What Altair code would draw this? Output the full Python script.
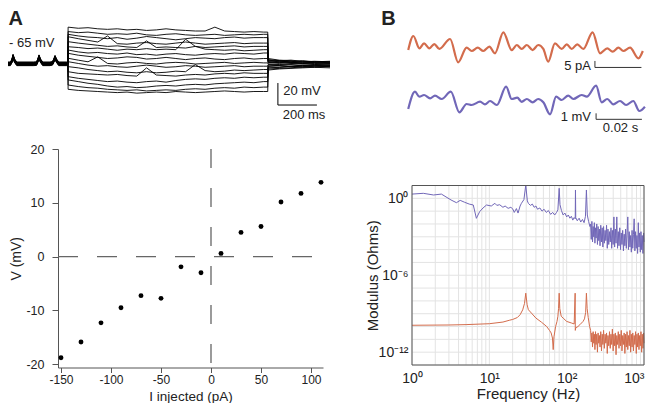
import altair as alt
import pandas as pd

FONT = "Liberation Sans"
INK = "#222222"
ORANGE = "#D36C4C"
PURPLE = "#7167B8"

# ---------------- Panel A, top: current-clamp voltage traces ----------------
pre_t = [0, 12, 20, 26, 33, 45, 130, 146, 153, 159, 166, 178, 215, 228, 235, 241, 248, 260, 300, 307]
pre_v = [-65, -65, -62.5, -58, -62, -65, -65, -64.8, -62, -58.5, -62, -65, -65, -64.5, -62, -59, -62, -65, -65, -65]
pre_offset = [1.5, 1.2, 0.9, 0.6, 0.3, 0.0, -0.3, -0.6, -0.9, -1.2, -1.5, 0.8, -0.8, 0.4, -0.4, 1.8]

step_t = [308, 360, 410, 460, 510, 560, 610, 660, 710, 760, 810, 860, 910, 960, 1010, 1060, 1110, 1160, 1210, 1260, 1310, 1331]
step_v = [
    [-31.5, -32.5, -32, -33, -33.5, -33, -34, -33.5, -34.5, -34, -33, -34, -34.5, -35, -35, -31.5, -35, -35.5, -36, -35.5, -36, -36],
    [-35.5, -36.5, -36, -37, -38, -37.5, -38, -37, -38.5, -39, -38, -37.5, -38.5, -39, -38.5, -38, -39, -38.5, -38, -38.5, -38, -38],
    [-38, -39.5, -40.5, -41, -42, -41, -42.5, -41.5, -40, -41, -42, -43, -42, -41, -41.5, -42, -41, -40.5, -41.5, -41, -41, -41],
    [-40.2, -42, -43.5, -45, -39.5, -46.5, -47, -46, -45.5, -46.5, -47, -46, -45, -46, -47, -46.5, -46, -45.5, -46.5, -46, -46, -46],
    [-44.7, -46, -47, -48, -49, -48.5, -49.5, -50, -44, -50, -49.5, -50, -50.5, -49, -50, -49.5, -49, -48.5, -49.5, -49, -49, -49],
    [-49.3, -50, -51, -50.5, -51.5, -52.5, -51.5, -52, -51, -52, -51.5, -52, -42.5, -49, -51.5, -52, -52.5, -52, -53, -52.5, -52, -52],
    [-52.3, -54, -55, -54.5, -55.5, -56, -55, -56.5, -56, -57, -56, -55.5, -56.5, -57, -56, -55.5, -56, -55, -55.5, -56, -55, -55],
    [-55.3, -57, -58, -59, -60, -59.5, -58.5, -59, -60.5, -60, -59, -60, -61, -60, -59.5, -60.5, -61, -60, -59.5, -60.5, -60, -60],
    [-59.8, -61.5, -63, -58.5, -64.5, -65, -64, -63.5, -64.5, -65, -64, -63.5, -64, -65, -64.5, -64, -63.5, -64.5, -64, -63.5, -64, -64],
    [-62.9, -64.5, -66, -67, -66.5, -67.5, -68, -67, -66, -67, -68, -67.5, -66.5, -67, -68, -67.5, -67, -66.5, -67.5, -67, -67, -67],
    [-67.4, -68.5, -70, -71, -72, -71.5, -72.5, -73, -72, -73, -72.5, -71.5, -72, -65.5, -71, -72, -71.5, -70.5, -71, -70.5, -70, -70],
    [-72, -73.5, -74, -74.5, -75, -74.5, -75.5, -76, -68.5, -75, -75.5, -76, -75, -74.5, -75, -74, -73.5, -74, -73, -73.5, -73.5, -73.5],
    [-76.5, -78, -79, -80, -81, -80.5, -81.5, -82, -81, -80.5, -81.5, -80, -79, -78.5, -79, -78, -77.5, -78, -77, -77.5, -77, -77],
    [-79.5, -81, -82.5, -83.5, -85, -86, -85.5, -86.5, -86, -85, -84.5, -85, -84, -83.5, -84, -83, -82.5, -82, -81.5, -82, -81, -81],
    [-84.1, -85.5, -86.5, -87, -88, -88.5, -89, -88.5, -89.5, -89, -88.5, -89, -88, -87.5, -88, -87, -86.5, -87, -86, -86.5, -86, -86],
    [-88, -89, -89.5, -90, -90.5, -91, -90.5, -91.5, -91, -90.5, -91, -90, -90.5, -91, -90.5, -90, -89.5, -90, -90.5, -90, -90, -90],
]
post_t = [1333, 1390, 1450, 1510, 1570, 1650]
post_v = [
    [-60, -61.5, -62, -63, -62.5, -63],
    [-61, -62, -61.5, -62.5, -63, -62.5],
    [-61.5, -62.5, -63, -62, -63, -63.5],
    [-62, -63, -62.5, -63.5, -63, -64],
    [-62.5, -62, -63.5, -64, -63.5, -63],
    [-63, -63.5, -64, -63, -64, -64.5],
    [-63.5, -64.5, -63.5, -64.5, -64, -64],
    [-64, -63.5, -64.5, -65, -64.5, -65],
    [-65, -65.5, -65, -64.5, -65.5, -65],
    [-65.5, -66, -65.5, -66.5, -65.5, -66],
    [-66, -66.5, -67, -66, -66.5, -66],
    [-67, -66.5, -67.5, -66.5, -67, -66.5],
    [-67.5, -68, -67, -67.5, -66.5, -67],
    [-68.5, -68, -67.5, -68, -67, -67.5],
    [-69.5, -69, -68.5, -67.5, -68, -67],
    [-70.5, -69.5, -69, -68.5, -68, -68.5],
]

rows = []
for k in range(len(step_v)):
    i = 0
    for t, v in zip(pre_t, pre_v):
        rows.append({"trace": k, "i": i, "t": t, "v": v + pre_offset[k]}); i += 1
    for t, v in zip(step_t, step_v[k]):
        rows.append({"trace": k, "i": i, "t": t, "v": v}); i += 1
    for t, v in zip(post_t, post_v[k]):
        rows.append({"trace": k, "i": i, "t": t, "v": v}); i += 1
traces = pd.DataFrame(rows)

sx_at = alt.Scale(domain=[0, 1650], range=[0, 322], nice=False, zero=False)
sy_at = alt.Scale(domain=[-110, -20], range=[105.5, 6.5], nice=False, zero=False)

a_lines = alt.Chart(traces).mark_line(color="black", strokeWidth=0.9, strokeJoin="round").encode(
    x=alt.X("t:Q", scale=sx_at, axis=None),
    y=alt.Y("v:Q", scale=sy_at, axis=None),
    detail="trace:N",
    order="i:Q",
)
a_bar = pd.DataFrame({"t": [1383, 1383], "t2": [1383, 1583], "v": [-102.3, -102.3], "v2": [-82.3, -102.3]})
a_bar_rules = alt.Chart(a_bar).mark_rule(color="black", strokeWidth=1).encode(
    x=alt.X("t:Q", scale=sx_at, axis=None), x2="t2:Q",
    y=alt.Y("v:Q", scale=sy_at, axis=None), y2="v2:Q",
)
a_txt_left = pd.DataFrame({"t": [5, 1410], "v": [-45.9, -89.5], "label": ["- 65 mV", "20 mV"]})
a_txt_center = pd.DataFrame({"t": [1517], "v": [-111.4], "label": ["200 ms"]})
a_txt_letter = pd.DataFrame({"t": [2], "v": [-29.5], "label": ["A"]})

def text_layer(df, sx, sy, xf, yf, **kw):
    return alt.Chart(df).mark_text(font=FONT, color=INK, **kw).encode(
        x=alt.X(f"{xf}:Q", scale=sx, axis=None),
        y=alt.Y(f"{yf}:Q", scale=sy, axis=None),
        text="label:N",
    )

a_top = alt.layer(
    a_lines, a_bar_rules,
    text_layer(a_txt_left, sx_at, sy_at, "t", "v", align="left", baseline="middle", fontSize=13),
    text_layer(a_txt_center, sx_at, sy_at, "t", "v", align="center", baseline="middle", fontSize=13),
    text_layer(a_txt_letter, sx_at, sy_at, "t", "v", align="left", baseline="alphabetic", fontSize=20, fontWeight="bold"),
)

# ---------------- Panel A, bottom: I-V relation ----------------
I_inj = [-150, -130, -110, -90, -70, -50, -30, -10, 10, 30, 50, 70, 90, 110]
V_resp = [-18.8, -15.85, -12.3, -9.5, -7.25, -7.75, -1.9, -3.0, 0.6, 4.5, 5.6, 10.15, 11.75, 13.8]
iv = pd.DataFrame({"I": I_inj, "V": V_resp})

sx_ab = alt.Scale(domain=[-153, 112], range=[50, 315], nice=False, zero=False)
sy_ab = alt.Scale(domain=[-20.6, 20], range=[359.5, 141], nice=False, zero=False)

axis_common = dict(
    domainColor="#555555", tickColor="#555555", labelColor=INK, titleColor=INK,
    labelFont=FONT, titleFont=FONT, titleFontWeight="normal", grid=False, labelOverlap=False,
    labelExpr="toString(datum.value)",
)
ax_x_ab = alt.Axis(orient="bottom", offset=-35.5, values=[-150, -100, -50, 0, 50, 100],
                   title="I injected (pA)", tickSize=5, labelPadding=2, labelFontSize=12,
                   titleFontSize=13.5, titleY=22, titleBaseline="top", **axis_common)
ax_y_ab = alt.Axis(orient="left", offset=-50, values=[-20, -10, 0, 10, 20],
                   title="V (mV)", tickSize=6, labelPadding=8, labelFontSize=12.5,
                   titleFontSize=14, titleX=-42, titleBaseline="middle", **axis_common)

iv_points = alt.Chart(iv).mark_circle(size=24, color="black", opacity=1).encode(
    x=alt.X("I:Q", scale=sx_ab, axis=ax_x_ab),
    y=alt.Y("V:Q", scale=sy_ab, axis=ax_y_ab),
)
h_zero = pd.DataFrame({"x": [-153], "x2": [112], "y": [0]})
v_zero = pd.DataFrame({"x": [0], "y": [20], "y2": [-20]})
h_rule = alt.Chart(h_zero).mark_rule(color="#666666", strokeWidth=1.3, strokeDash=[20, 19]).encode(
    x=alt.X("x:Q", scale=sx_ab, axis=ax_x_ab), x2="x2:Q", y=alt.Y("y:Q", scale=sy_ab, axis=ax_y_ab))
v_rule = alt.Chart(v_zero).mark_rule(color="#666666", strokeWidth=1.3, strokeDash=[19, 20]).encode(
    x=alt.X("x:Q", scale=sx_ab, axis=ax_x_ab), y=alt.Y("y:Q", scale=sy_ab, axis=ax_y_ab), y2="y2:Q")
a_bot = alt.layer(iv_points, h_rule, v_rule)

# ---------------- Panel B, top: current and voltage traces ----------------
orange_t = [0.1, 2.3, 4.9, 6.9, 9.2, 11.3, 13.5, 18.1, 21.6, 25.2, 27.4, 30.0, 32.4, 35.0, 37.4, 41.0, 44.6, 46.8,
            48.9, 51.1, 53.6, 56.0, 58.2, 60.3, 63.2, 66.1, 68.3, 70.4, 72.8, 75.4, 79.4, 82.6, 85.7, 88.0, 90.5,
            92.6, 95.5, 99.1, 101.0]
orange_pA = [-1.7, 10.0, -0.3, 3.9, -0.3, 3.3, -0.8, 7.5, -11.9, 0.3, -2.5, 0.3, -2.5, 1.1, -4.4, 13.1, -1.7, 2.5,
             -0.8, 2.5, -1.7, 2.5, -0.8, -11.4, 3.9, -0.8, 3.1, -0.8, 3.1, -0.8, 13.1, -4.4, -0.3, -3.1, 0.3,
             -2.5, 0.3, -8.6, -2.5]
purple_t = [0.1, 3.0, 4.9, 6.9, 9.5, 11.6, 14.5, 18.4, 22.1, 25.2, 27.4, 31.0, 33.1, 35.3, 38.2, 42.2, 44.6, 47.0,
            48.9, 51.1, 53.6, 56.0, 58.2, 61.1, 63.7, 66.1, 68.9, 71.1, 74.7, 76.9, 80.9, 83.3, 85.7, 88.3, 91.2,
            93.8, 96.9, 99.5, 101.9]
purple_mV = [-1.5, 1.38, 0.55, 0.83, 0.28, 0.72, 0.17, 1.38, -2.05, -0.67, -0.83, -0.28, -0.72, -0.17, -0.83, 2.22,
             0.17, 0.38, -0.3, 0.17, -0.38, 0.17, -0.38, -2.38, 0.55, 0.0, 0.72, 0.17, 0.83, 0.55, 2.38, -0.38,
             0.17, -0.72, -0.17, -0.83, -0.17, -1.83, -1.12]

sx_bt = alt.Scale(domain=[0, 100], range=[400, 632.5], nice=False, zero=False)
sy_or = alt.Scale(domain=[-20, 15], range=[64, 22], nice=False, zero=False)
sy_pu = alt.Scale(domain=[-4, 3], range=[116, 74], nice=False, zero=False)

or_line = alt.Chart(pd.DataFrame({"t": orange_t, "y": orange_pA})).mark_line(
    color=ORANGE, strokeWidth=2.2, interpolate="monotone").encode(
    x=alt.X("t:Q", scale=sx_bt, axis=None), y=alt.Y("y:Q", scale=sy_or, axis=None))
or_bar = pd.DataFrame({"t": [80.4, 80.4], "t2": [80.4, 100.4], "y": [-10.8, -16.2], "y2": [-16.2, -16.2]})
or_bar_rules = alt.Chart(or_bar).mark_rule(color="#333333", strokeWidth=1).encode(
    x=alt.X("t:Q", scale=sx_bt, axis=None), x2="t2:Q", y=alt.Y("y:Q", scale=sy_or, axis=None), y2="y2:Q")
or_txt = pd.DataFrame({"t": [78.7], "y": [-15.0], "label": ["5 pA"]})
b_letter = pd.DataFrame({"t": [-11.5], "y": [19.2], "label": ["B"]})
b_top_or = alt.layer(
    or_line, or_bar_rules,
    text_layer(or_txt, sx_bt, sy_or, "t", "y", align="right", baseline="middle", fontSize=13),
    text_layer(b_letter, sx_bt, sy_or, "t", "y", align="left", baseline="alphabetic", fontSize=20, fontWeight="bold"),
)

pu_line = alt.Chart(pd.DataFrame({"t": purple_t, "y": purple_mV})).mark_line(
    color=PURPLE, strokeWidth=2.2, interpolate="monotone").encode(
    x=alt.X("t:Q", scale=sx_bt, axis=None), y=alt.Y("y:Q", scale=sy_pu, axis=None))
pu_bar = pd.DataFrame({"t": [80.9, 80.9], "t2": [80.9, 100.6], "y": [-2.22, -3.22], "y2": [-3.22, -3.22]})
pu_bar_rules = alt.Chart(pu_bar).mark_rule(color="#333333", strokeWidth=1).encode(
    x=alt.X("t:Q", scale=sx_bt, axis=None), x2="t2:Q", y=alt.Y("y:Q", scale=sy_pu, axis=None), y2="y2:Q")
pu_txt_r = pd.DataFrame({"t": [78.7], "y": [-2.83], "label": ["1 mV"]})
pu_txt_c = pd.DataFrame({"t": [91.4], "y": [-4.67], "label": ["0.02 s"]})
b_top_pu = alt.layer(
    pu_line, pu_bar_rules,
    text_layer(pu_txt_r, sx_bt, sy_pu, "t", "y", align="right", baseline="middle", fontSize=13),
    text_layer(pu_txt_c, sx_bt, sy_pu, "t", "y", align="center", baseline="middle", fontSize=13),
)

# ---------------- Panel B, bottom: impedance spectra ----------------
pu_f = [1.0, 1.4, 1.9, 2.4, 3.2, 3.75, 4.2, 4.8, 5.5, 6.2, 6.8, 7.5, 8.3, 9.2, 10.6, 11.8, 12.5, 13.6, 15, 16,
        17.5, 19, 20.2, 21, 22.4, 23.5, 25, 26, 28, 29.6, 31, 32, 34, 36, 38, 40, 42, 45, 48, 51, 54.6, 58, 62,
        66, 70, 74, 77, 80, 82, 85.6, 90, 95, 100, 105, 110, 115, 120, 125, 129, 130, 131, 137, 145, 152, 160,
        168, 175, 180, 185, 192, 200]
pu_log = [0.33, 0.39, 0.26, 0.33, -0.13, -0.34, -0.16, -0.31, -0.45, -0.52, -1.56, -1.04, -0.75, -0.52, -0.6,
          -0.39, -0.55, -0.5, -0.7, -0.6, -0.78, -0.7, -0.85, -1.1, -0.8, -1.15, -0.6, -0.39, -0.1, 1.03, -0.2,
          -0.4, -0.55, -0.45, -0.7, -0.6, -0.85, -0.75, -1.0, -0.85, -1.1, -0.95, -1.25, -1.1, -1.3, -1.1, -0.9,
          0.78, -0.5, -0.95, -1.3, -1.15, -1.45, -1.3, -1.55, -1.4, -1.7, -1.5, -1.6, 0.65, -1.5, -1.75, -1.55,
          -1.85, -1.65, -1.9, -1.4, 0.65, -1.3, -1.8, -2.2]
or_f = [1, 3, 5, 10, 15, 18.4, 20, 23, 25, 27, 28.5, 29.6, 30.8, 32, 35, 40, 47, 55, 60, 63, 65.5, 67, 68.5, 72,
        75, 77, 78.5, 80, 81.5, 85, 90, 100, 116, 125, 128.7, 129.3, 131, 140, 148, 163, 170, 176, 180, 184, 190,
        198]
or_log = [-9.9, -9.88, -9.85, -9.78, -9.65, -9.5, -9.45, -9.3, -9.08, -8.7, -8.2, -7.4, -8.3, -8.69, -8.95, -9.34,
          -9.65, -9.99, -10.3, -10.5, -10.9, -11.8, -10.8, -9.99, -9.6, -9.2, -8.6, -7.4, -8.6, -9.2, -9.34, -9.6,
          -9.73, -9.8, -7.4, -10.3, -10.1, -10.0, -9.86, -9.6, -9.4, -8.9, -7.4, -8.6, -9.3, -10.0]

# noisy high-frequency part (above ~200 Hz), shared frequency bins
noise_f = [204, 208, 212, 216, 220, 224, 228, 232, 236, 240, 245, 250, 255, 260, 265, 270, 276, 282, 288, 294,
           300, 307, 314, 321, 328, 335, 342, 350, 358, 366, 374, 382, 390, 399, 408, 417, 426, 435, 445, 455,
           465, 475, 486, 497, 508, 519, 530, 542, 554, 566, 578, 591, 604, 617, 630, 644, 658, 672, 686, 701,
           716, 731, 746, 762, 778, 794, 810, 827, 844, 861, 878, 896, 914, 932, 950, 969, 988, 1000]
pu_noise_log = [-2.0, -3.2, -1.8, -3.4, -2.2, -3.0, -1.9, -3.5, -2.3, -3.1,
                -2.0, -3.6, -2.2, -3.3, -2.4, -3.7, -2.1, -3.4, -2.3, -3.8,
                -2.2, -3.5, -2.5, -3.3, -2.1, -3.9, -2.4, -3.6, -2.6, -3.4,
                -2.3, -3.9, -2.5, -3.6, -1.45, -3.8, -2.4, -3.5, -1.45, -3.9,
                -2.6, -3.7, -2.3, -4.0, -2.7, -3.6, -2.5, -4.1, -2.8, -3.7,
                -2.4, -3.9, -2.7, -1.45, -4.0, -2.6, -3.8, -2.9, -4.2, -2.5,
                -3.9, -2.8, -1.6, -4.1, -2.6, -3.9, -2.9, -4.3, -1.9, -3.8,
                -2.7, -4.2, -2.6, -4.0, -2.9, -4.3, -2.7, -3.4]
or_noise_log = [-10.3, -11.2, -10.5, -11.6, -10.4, -11.3, -10.6, -11.8, -10.4, -11.4,
                -10.6, -12.0, -10.5, -11.3, -10.7, -11.6, -10.4, -11.9, -10.6, -11.4,
                -10.3, -11.7, -10.6, -11.3, -10.5, -12.1, -10.7, -11.5, -10.4, -11.7,
                -10.6, -11.4, -10.2, -11.9, -10.6, -11.5, -10.5, -12.2, -10.7, -11.4,
                -10.4, -11.7, -10.6, -11.5, -10.3, -11.9, -10.7, -11.4, -10.5, -12.1,
                -10.6, -11.6, -10.4, -11.8, -10.7, -11.5, -10.3, -12.0, -10.6, -11.6,
                -10.5, -11.9, -10.7, -11.4, -10.4, -12.1, -10.6, -11.6, -10.5, -11.8,
                -10.7, -11.5, -10.4, -12.0, -10.6, -11.7, -10.5, -11.3]

spec_pu = pd.DataFrame({"f": pu_f + noise_f, "m": [10.0 ** e for e in pu_log + pu_noise_log]})
spec_or = pd.DataFrame({"f": or_f + noise_f, "m": [10.0 ** e for e in or_log + or_noise_log]})

x_ticks = [m * 10 ** d for d in range(3) for m in range(1, 10)] + [1000]
y_ticks = [10.0 ** k for k in range(-13, 2)]
F_MIN, F_MAX, M_MIN, M_MAX = 1, 1000, 1e-13, 1e1

sx_bb = alt.Scale(type="log", domain=[F_MIN, F_MAX], range=[404, 636], nice=False)
sy_bb = alt.Scale(type="log", domain=[M_MIN, M_MAX], range=[357, 177.5], nice=False)

axis_b = dict(
    labelColor=INK, titleColor=INK, labelFont=FONT, titleFont=FONT, labelFontSize=14, titleFontSize=15,
    titleFontWeight="normal", grid=False, domain=False, ticks=False, labelOverlap=False,
)
ax_x_bb = alt.Axis(
    orient="bottom", offset=-38, values=x_ticks, title="Frequency (Hz)", labelPadding=6,
    labelExpr="datum.value == 1 ? '10⁰' : datum.value == 10 ? '10¹' : datum.value == 100 ? '10²' : datum.value == 1000 ? '10³' : ''",
    labelAlign={"condition": {"test": "datum.value >= 999", "value": "right"}, "value": "center"},
    titleY=21, titleBaseline="top", **axis_b)
ax_y_bb = alt.Axis(
    orient="left", offset=-404, values=y_ticks, title="Modulus (Ohms)", labelPadding=4,
    labelExpr="round(log(datum.value)/LN10) == 0 ? '10⁰' : round(log(datum.value)/LN10) == -6 ? '10⁻⁶' : round(log(datum.value)/LN10) == -12 ? '10⁻¹²' : ''",
    titleX=-40, titleBaseline="middle", **axis_b)

GRID = "#e3e3e3"
vgrid = alt.Chart(pd.DataFrame({"f": x_ticks, "m0": M_MIN, "m1": M_MAX})).mark_rule(
    color=GRID, strokeWidth=1).encode(
    x=alt.X("f:Q", scale=sx_bb, axis=ax_x_bb),
    y=alt.Y("m0:Q", scale=sy_bb, axis=ax_y_bb), y2="m1:Q")
hgrid = alt.Chart(pd.DataFrame({"m": y_ticks, "f0": F_MIN, "f1": F_MAX})).mark_rule(
    color=GRID, strokeWidth=1).encode(
    y=alt.Y("m:Q", scale=sy_bb, axis=ax_y_bb),
    x=alt.X("f0:Q", scale=sx_bb, axis=ax_x_bb), x2="f1:Q")
pu_spec = alt.Chart(spec_pu).mark_line(color=PURPLE, strokeWidth=1).encode(
    x=alt.X("f:Q", scale=sx_bb, axis=ax_x_bb),
    y=alt.Y("m:Q", scale=sy_bb, axis=ax_y_bb),
    order="f:Q",
)
or_spec = alt.Chart(spec_or).mark_line(color=ORANGE, strokeWidth=1).encode(
    x=alt.X("f:Q", scale=sx_bb, axis=ax_x_bb), y=alt.Y("m:Q", scale=sy_bb, axis=ax_y_bb), order="f:Q")
frame = pd.DataFrame({"f0": [F_MIN], "f1": [F_MAX], "m0": [M_MIN], "m1": [M_MAX]})
frame_rect = alt.Chart(frame).mark_rect(filled=False, stroke="#555555", strokeWidth=1).encode(
    x=alt.X("f0:Q", scale=sx_bb, axis=ax_x_bb), x2="f1:Q",
    y=alt.Y("m0:Q", scale=sy_bb, axis=ax_y_bb), y2="m1:Q")
b_bot = alt.layer(vgrid, hgrid, pu_spec, or_spec, frame_rect)

chart = alt.layer(a_top, a_bot, b_top_or, b_top_pu, b_bot).resolve_scale(
    x="independent", y="independent"
).resolve_axis(
    x="independent", y="independent"
).properties(
    width=639, height=395, autosize=alt.AutoSizeParams(type="none"), padding=0,
).configure_view(stroke=None)

chart.save("out.html", embed_options={"renderer": "svg", "actions": False})
